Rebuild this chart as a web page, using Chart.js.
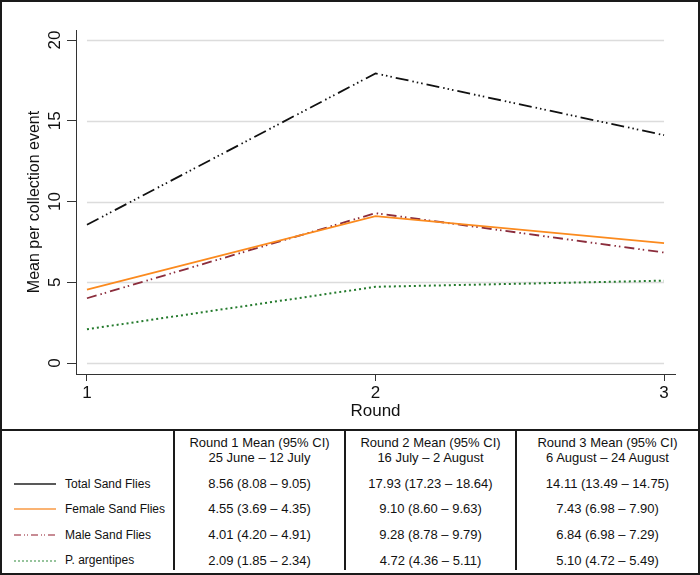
<!DOCTYPE html>
<html>
<head>
<meta charset="utf-8">
<style>
  html, body { margin: 0; padding: 0; background: #fff; }
  body { font-family: "Liberation Sans", Arial, sans-serif; }
  #wrap { width: 700px; height: 575px; box-sizing: border-box; border: 2px solid #1a1a1a; overflow: hidden; }
  #chartBox { width: 696px; height: 427px; }
  table { width: 696px; border-collapse: collapse; table-layout: fixed; font-size: 13px; color: #111; }
  td { border: 2px solid #1a1a1a; padding: 0; text-align: center; white-space: nowrap; }
  tr td:first-child { border-left: none; }
  tr td:last-child { border-right: none; }
  tr:last-child td { border-bottom: none; }
  thead td { height: 38px; line-height: 15px; }
  tbody td { border-top: none; border-bottom: none; padding-top: 4px; }
  .key { text-align: left; font-size: 12px; }
  .key svg { vertical-align: middle; margin-left: 12px; margin-right: 9px; }
</style>
</head>
<body>
<div id="wrap">
  <div id="chartBox"><canvas id="roundChart" width="696" height="427"></canvas></div>
  <table id="meanTable">
    <colgroup><col style="width:172px"><col style="width:171px"><col style="width:171px"><col style="width:182px"></colgroup>
    <thead><tr id="headRow"><td></td></tr></thead>
    <tbody id="bodyRows"></tbody>
  </table>
</div>

<script src="https://cdn.jsdelivr.net/npm/chart.js"></script>
<script>
    const rounds = [1, 2, 3];
    const xTicks = [1, 2, 3];
    const yTicks = [0, 5, 10, 15, 20];

    const seriesNames = ["Total Sand Flies", "Female Sand Flies", "Male Sand Flies", "P. argentipes"];
    const totalFlies = [8.56, 17.93, 14.11];
    const femaleFlies = [4.55, 9.10, 7.43];
    const maleFlies = [4.01, 9.28, 6.84];
    const argentipes = [2.09, 4.72, 5.10];

    // 95% CI bounds as printed in the table
    const totalLow = [8.08, 17.23, 13.49], totalHigh = [9.05, 18.64, 14.75];
    const femaleLow = [3.69, 8.60, 6.98], femaleHigh = [4.35, 9.63, 7.90];
    const maleLow = [4.20, 8.78, 6.98], maleHigh = [4.91, 9.79, 7.29];
    const argLow = [1.85, 4.36, 4.72], argHigh = [2.34, 5.11, 5.49];

    const roundDates = ["25 June – 12 July", "16 July – 2 August", "6 August – 24 August"];

    const lineColors = ["#111111", "#fb8a1e", "#8b2d3c", "#237a2c"];
    const keyColors = ["#222222", "#f99a45", "#b56571", "#2f8a3a"];
    const dashes = [[13, 4, 1.5, 3, 1.5, 3, 1.5, 4], [], [10, 4, 1.5, 3, 1.5, 4], [2, 3]];
    // the key in the table draws Total as a plain solid line
    const keyDashes = ["", "", "7 3 1 2 1 3", "2 2"];

    const FONT = "'Liberation Sans', Arial, sans-serif";

    // light grid lines only across the data range (1..3), like the original
    const rangeGrid = {
        id: "rangeGrid",
        beforeDatasetsDraw(chart) {
            const { ctx, scales: { x, y } } = chart;
            const x0 = x.getPixelForValue(xTicks[0]);
            const x1 = x.getPixelForValue(xTicks[xTicks.length - 1]);
            ctx.save();
            ctx.strokeStyle = "#dcdcdc";
            ctx.lineWidth = 1.5;
            yTicks.forEach(v => {
                const py = Math.round(y.getPixelForValue(v)) + 0.5;
                ctx.beginPath();
                ctx.moveTo(x0, py);
                ctx.lineTo(x1, py);
                ctx.stroke();
            });
            ctx.restore();
        }
    };

    const seriesData = [totalFlies, femaleFlies, maleFlies, argentipes];

    new Chart(document.getElementById("roundChart").getContext("2d"), {
        type: "line",
        data: {
            datasets: seriesData.map((vals, i) => ({
                label: seriesNames[i],
                data: rounds.map((r, j) => ({ x: r, y: vals[j] })),
                borderColor: lineColors[i],
                borderDash: dashes[i],
                borderWidth: i === 3 ? 2 : 1.8,
                pointRadius: 0,
                tension: 0,
                fill: false
            }))
        },
        options: {
            responsive: false,
            animation: false,
            layout: { padding: { left: 0, top: 28, right: 23, bottom: 0 } },
            plugins: { legend: { display: false }, tooltip: { enabled: false } },
            scales: {
                x: {
                    type: "linear",
                    min: 0.962,
                    max: 3.038,
                    afterBuildTicks: s => { s.ticks = xTicks.map(v => ({ value: v })); },
                    afterFit: s => { s.height = 55; },
                    border: { display: true, color: "#333", width: 1 },
                    grid: { drawOnChartArea: false, drawTicks: true, tickLength: 7, tickColor: "#333" },
                    ticks: { color: "#111", font: { family: FONT, size: 17 }, padding: 2, maxRotation: 0 },
                    title: { display: true, text: "Round", color: "#111", font: { family: FONT, size: 17 }, padding: { top: 0, bottom: 7 } }
                },
                y: {
                    type: "linear",
                    min: -0.68,
                    max: 20.62,
                    afterBuildTicks: s => { s.ticks = yTicks.map(v => ({ value: v })); },
                    afterFit: s => { s.width = 74; },
                    border: { display: true, color: "#333", width: 1 },
                    grid: { drawOnChartArea: false, drawTicks: true, tickLength: 9, tickColor: "#333" },
                    ticks: { color: "#111", font: { family: FONT, size: 17 }, padding: 2, minRotation: 90, maxRotation: 90, crossAlign: "center" },
                    title: { display: true, text: "Mean per collection event", color: "#111", font: { family: FONT, size: 16 }, padding: { top: 23, bottom: 0 } }
                }
            }
        },
        plugins: [rangeGrid]
    });

    // table below the plot
    const headRow = document.getElementById("headRow");
    rounds.forEach((r, i) => {
        const td = document.createElement("td");
        td.innerHTML = "Round " + r + " Mean (95% CI)<br>" + roundDates[i];
        headRow.appendChild(td);
    });

    const lows = [totalLow, femaleLow, maleLow, argLow];
    const highs = [totalHigh, femaleHigh, maleHigh, argHigh];
    const rowHeights = [25, 25, 27, 24];
    const body = document.getElementById("bodyRows");
    seriesNames.forEach((name, i) => {
        const tr = document.createElement("tr");
        tr.style.height = rowHeights[i] + "px";
        const key = document.createElement("td");
        key.className = "key";
        const dash = keyDashes[i] ? ' stroke-dasharray="' + keyDashes[i] + '"' : "";
        key.innerHTML = '<svg width="42" height="4"><line x1="0" y1="2" x2="42" y2="2" stroke="' + keyColors[i] +
            '" stroke-width="' + (i === 3 ? 1.2 : 1.3) + '"' + dash + '/></svg>' + name;
        tr.appendChild(key);
        seriesData[i].forEach((v, j) => {
            const td = document.createElement("td");
            td.textContent = v.toFixed(2) + " (" + lows[i][j].toFixed(2) + " – " + highs[i][j].toFixed(2) + ")";
            tr.appendChild(td);
        });
        body.appendChild(tr);
    });
</script>
</body>
</html>
